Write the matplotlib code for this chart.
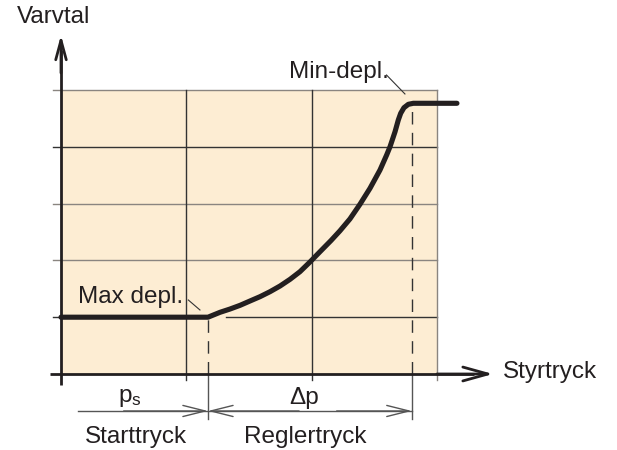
import matplotlib
matplotlib.use("Agg")
import matplotlib.pyplot as plt

plt.rcParams['font.family'] = ['Liberation Sans', 'DejaVu Sans']
plt.rcParams['mathtext.fontset'] = 'custom'
plt.rcParams['mathtext.rm'] = 'Liberation Sans'
plt.rcParams['mathtext.it'] = 'Liberation Sans'

# ---- data (x: control pressure units, y: speed units) ----
curve_x = [0.0, 1.173, 1.269, 1.349, 1.429, 1.508, 1.588, 1.668, 1.748, 1.828,
           1.907, 1.987, 2.067, 2.155, 2.226, 2.306, 2.386, 2.466, 2.546, 2.599,
           2.626, 2.666, 2.692, 2.711, 2.737, 2.772, 2.812, 3.160]
curve_y = [1.0, 1.0, 1.086, 1.144, 1.209, 1.285, 1.361, 1.449, 1.549, 1.667,
           1.801, 1.972, 2.153, 2.350, 2.520, 2.730, 2.988, 3.269, 3.592, 3.856,
           4.002, 4.266, 4.472, 4.590, 4.688, 4.748, 4.766, 4.766]
p_start = 1.173          # start pressure (Max depl.)
p_end = 2.80             # end of regulation (Min-depl.)
y_low = 1.0
y_high = 4.766
grid_x = [1, 2, 3]
grid_y = [1, 2, 3, 4, 5]
grid_y_dark = [1, 4]
axis_label_x = "Styrtryck"
axis_label_y = "Varvtal"
label_max = "Max depl."
label_min = "Min-depl."
dim_labels = ["$\\mathrm{p_s}$", "\u0394p"]
range_labels = ["Starttryck", "Reglertryck"]

# ---- figure ----
W, H = 617, 450
fig = plt.figure(figsize=(W / 100, H / 100), dpi=100)
ax = fig.add_axes([0, 0, 1, 1])
ax.set_axis_off()
ax.set_xlim(-61 / 125.3, (W - 61) / 125.3)
ax.set_ylim(-(H - 374) / 56.8, 374 / 56.8)

ink = '#231f20'
fs = 17.5

# shaded area
ax.fill_between([0, 3], 0, 5, color='#FDEDD3', zorder=0, lw=0)

# grid lines
for gy in grid_y:
    col = '#333333' if gy in grid_y_dark else '#8a8580'
    if gy == y_low:
        ax.plot([-0.06, 0], [gy, gy], color=col, lw=1.0, zorder=1)
        ax.plot([1.32, 3], [gy, gy], color=col, lw=1.0, zorder=1)
    else:
        ax.plot([-0.06, 3], [gy, gy], color=col, lw=1.0, zorder=1)
for gx in grid_x:
    col = '#333333' if gx < 3 else '#8a8580'
    ax.plot([gx, gx], [-0.1, 5], color=col, lw=1.0, zorder=1)

# axes with arrows
ax.plot([0, 0], [-0.194, 5.7], color=ink, lw=2.0, zorder=3, solid_capstyle='butt')
ax.annotate('', xy=(0, 5.968), xytext=(0, 5.3),
            arrowprops=dict(arrowstyle='->,head_length=1.4,head_width=0.38',
                            color=ink, lw=2.0, mutation_scale=10,
                            shrinkA=0, shrinkB=0), zorder=3)
ax.plot([-0.088, 3.3], [0, 0], color=ink, lw=2.0, zorder=3, solid_capstyle='butt')
ax.annotate('', xy=(3.448, 0), xytext=(3.0, 0),
            arrowprops=dict(arrowstyle='->,head_length=1.8,head_width=0.5',
                            color=ink, lw=2.0, mutation_scale=10,
                            shrinkA=0, shrinkB=0), zorder=3)

# curve
ax.plot(curve_x, curve_y, color=ink, lw=3.7, zorder=4,
        solid_capstyle='round', solid_joinstyle='round')

# dashed guide lines and extension lines
for px, py in [(p_start, y_low), (p_end, y_high - 0.08)]:
    ax.plot([px, px], [0, py], color='#333333', lw=1.0, ls=(0, (9, 6)), zorder=2)
    ax.plot([px, px], [0, -0.79], color='#555555', lw=1.0, zorder=2)

# dimension line
dim_y = -0.651
ax.plot([0.136, p_end], [dim_y, dim_y], color='#555555', lw=1.0, zorder=2)
dim_arrow = dict(arrowstyle='->,head_length=1.6,head_width=0.4',
                 color='#555555', lw=1.0, mutation_scale=10, shrinkA=0, shrinkB=0)
ax.annotate('', xy=(p_start, dim_y), xytext=(0.5, dim_y), arrowprops=dim_arrow)
ax.annotate('', xy=(p_start, dim_y), xytext=(1.9, dim_y), arrowprops=dim_arrow)
ax.annotate('', xy=(p_end, dim_y), xytext=(2.2, dim_y), arrowprops=dim_arrow)

# leader lines
ax.plot([2.598, 2.745], [5.264, 4.93], color='#333333', lw=0.8, zorder=2)
ax.plot([1.016, 1.109], [1.303, 1.127], color='#333333', lw=0.8, zorder=2)

# texts
ax.text(-0.351, 6.285, axis_label_y, fontsize=fs, color=ink, ha='left', va='center')
ax.text(3.527, 0.035, axis_label_x, fontsize=fs, color=ink, ha='left', va='center')
ax.text(2.618, 5.317, label_min, fontsize=fs, color=ink, ha='right', va='center')
ax.text(0.136, 1.356, label_max, fontsize=fs, color=ink, ha='left', va='center')
ax.text(0.55, -0.42, dim_labels[0], fontsize=fs, color=ink, ha='center', va='center')
ax.text(1.94, -0.42, dim_labels[1], fontsize=fs, color=ink, ha='center', va='center')
ax.text(0.6, -1.11, range_labels[0], fontsize=fs, color=ink, ha='center', va='center')
ax.text(1.947, -1.11, range_labels[1], fontsize=fs, color=ink, ha='center', va='center')

fig.savefig('out.png', dpi=100)
